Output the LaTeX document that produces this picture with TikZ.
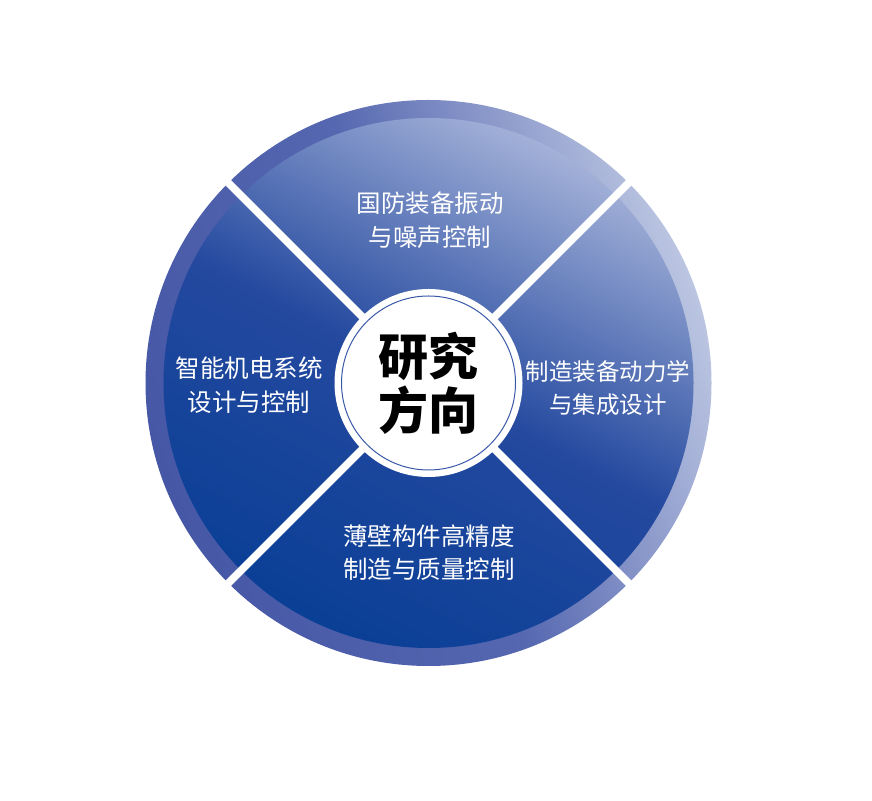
\documentclass[tikz,border=0pt]{standalone}
\usepackage{fontspec}
\usepackage{xcolor}
\newfontfamily\cjksans{Noto Sans CJK SC}
\definecolor{ringdark}{HTML}{4657A6}
\definecolor{ringmid}{HTML}{5567B0}
\definecolor{ringlight}{HTML}{BCC6E2}
\definecolor{discdark}{HTML}{0A3F96}
\definecolor{discmid}{HTML}{24499F}
\definecolor{disclight}{HTML}{A3B1D8}
\definecolor{thinblue}{HTML}{3A58A8}

\begin{document}
\begin{tikzpicture}[x=1pt,y=1pt,
    area/.style={text=white,align=center,font=\cjksans\fontsize{24.5}{33.5}\selectfont}]
  \useasboundingbox (0,0) rectangle (872,800);
  \coordinate (o) at (428.5,417);
  % Outer ring
  \shade[top color=ringlight,bottom color=ringdark,middle color=ringmid,shading angle=-70] (o) circle (283pt);
  % Blue disc
  \shade[top color=disclight,bottom color=discdark,middle color=discmid,shading angle=-28] (o) circle (265pt);
  % Cross
  \foreach \a in {45,135,225,315}
    \draw[white,line width=7.5pt] (o) -- ++(\a:295pt);
  % Centre circle
  \fill[white] (o) circle (94pt);
  \draw[thinblue,line width=1pt] (o) circle (87pt);
  \node[font=\cjksans\bfseries\fontsize{50}{54}\selectfont,align=center] (centre) at (o) {研究\\方向};
  % Labels
  \node[area] (top) at (430,580) {国防装备振动\\与噪声控制};
  \node[area] (left) at (249,415) {智能机电系统\\设计与控制};
  \node[area,font=\cjksans\fontsize{23.5}{33.5}\selectfont] (right) at (608,412) {制造装备动力学\\与集成设计};
  \node[area] (bottom) at (429,247.5) {薄壁构件高精度\\制造与质量控制};
\end{tikzpicture}
\end{document}
